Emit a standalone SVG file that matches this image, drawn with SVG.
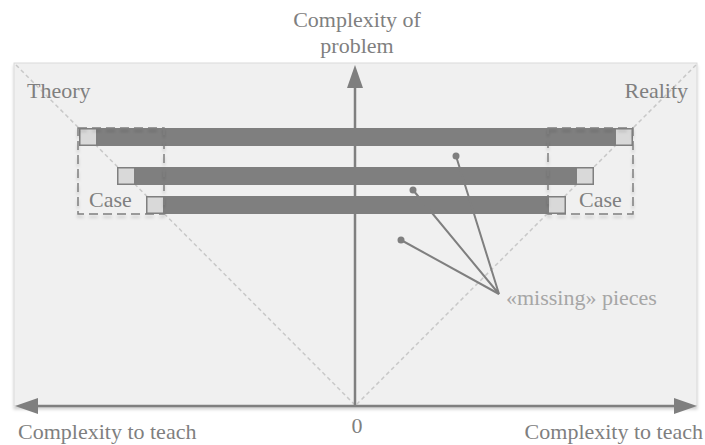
<svg xmlns="http://www.w3.org/2000/svg" width="705" height="445" viewBox="0 0 705 445">
<defs>
<style>
.t{font-family:"Liberation Serif","Times New Roman",serif;font-size:22px;fill:#7f7f7f}
.lt{fill:#a6a6a6}
.bar{fill:#7f7f7f}
.sq{fill:#d9d9d9;stroke:#7f7f7f;stroke-width:1.5}
.case{fill:none;stroke:#7f7f7f;stroke-width:1.5;stroke-dasharray:9 5}
.diag{stroke:#c8c8c8;stroke-width:1.5;stroke-dasharray:4 3;fill:none}
.axis{stroke:#7f7f7f;stroke-width:2.5;fill:none}
.ah{fill:#7f7f7f}
.ptr{stroke:#7f7f7f;stroke-width:2;fill:none}
</style>
<filter id="sh" x="-10%" y="-10%" width="120%" height="130%">
<feDropShadow dx="0" dy="3" stdDeviation="1.5" flood-color="#000" flood-opacity="0.18"/>
</filter>
</defs>
<g id="background">
<rect x="14" y="63" width="683" height="343" fill="#f0f0f0" stroke="#d9d9d9" stroke-width="1" filter="url(#sh)"/>
<line class="diag" x1="16" y1="65" x2="354" y2="404"/>
<line class="diag" x1="696" y1="65" x2="357" y2="404"/>
</g>
<g id="axes">
<line class="axis" x1="355" y1="406" x2="355" y2="86"/>
<polygon class="ah" points="355,65 347,88 363,88"/>
<line class="axis" x1="36" y1="406" x2="676" y2="406"/>
<polygon class="ah" points="15,406 38,398 38,414"/>
<polygon class="ah" points="697,406 674,398 674,414"/>
</g>
<g id="bar1">
<rect class="bar" x="79" y="128" width="554" height="18"/>
<rect class="sq" x="79.75" y="128.75" width="17" height="16.5"/>
<rect class="sq" x="615.25" y="128.75" width="17" height="16.5"/>
</g>
<g id="bar2">
<rect class="bar" x="117" y="167" width="477" height="18"/>
<rect class="sq" x="117.75" y="167.75" width="17" height="16.5"/>
<rect class="sq" x="576.25" y="167.75" width="17" height="16.5"/>
</g>
<g id="bar3">
<rect class="bar" x="146" y="196" width="420" height="18"/>
<rect class="sq" x="146.75" y="196.75" width="17" height="16.5"/>
<rect class="sq" x="548.25" y="196.75" width="17" height="16.5"/>
</g>
<g id="case-left">
<rect class="case" x="78" y="128" width="86" height="86" filter="url(#sh)"/>
<text class="t" x="89" y="207">Case</text>
</g>
<g id="case-right">
<rect class="case" x="548" y="128" width="85" height="86" filter="url(#sh)"/>
<text class="t" x="579" y="207">Case</text>
</g>
<g id="connectors">
<polyline class="ptr" points="456,156 499,294 413,190"/>
<line class="ptr" x1="401" y1="240" x2="499" y2="294"/>
<circle cx="456" cy="156" r="3.5" fill="#7f7f7f"/>
<circle cx="413" cy="190" r="3.5" fill="#7f7f7f"/>
<circle cx="401" cy="240" r="3.5" fill="#7f7f7f"/>
</g>
<g id="labels">
<text class="t" x="357" y="27" text-anchor="middle">Complexity of</text>
<text class="t" x="357" y="53" text-anchor="middle">problem</text>
<text class="t" x="27" y="98">Theory</text>
<text class="t" x="688" y="98" text-anchor="end">Reality</text>
<text class="t lt" x="506" y="305">«missing» pieces</text>
<text class="t" x="18" y="439">Complexity to teach</text>
<text class="t" x="703" y="439" text-anchor="end">Complexity to teach</text>
<text class="t" x="357" y="433" text-anchor="middle">0</text>
</g>
</svg>
